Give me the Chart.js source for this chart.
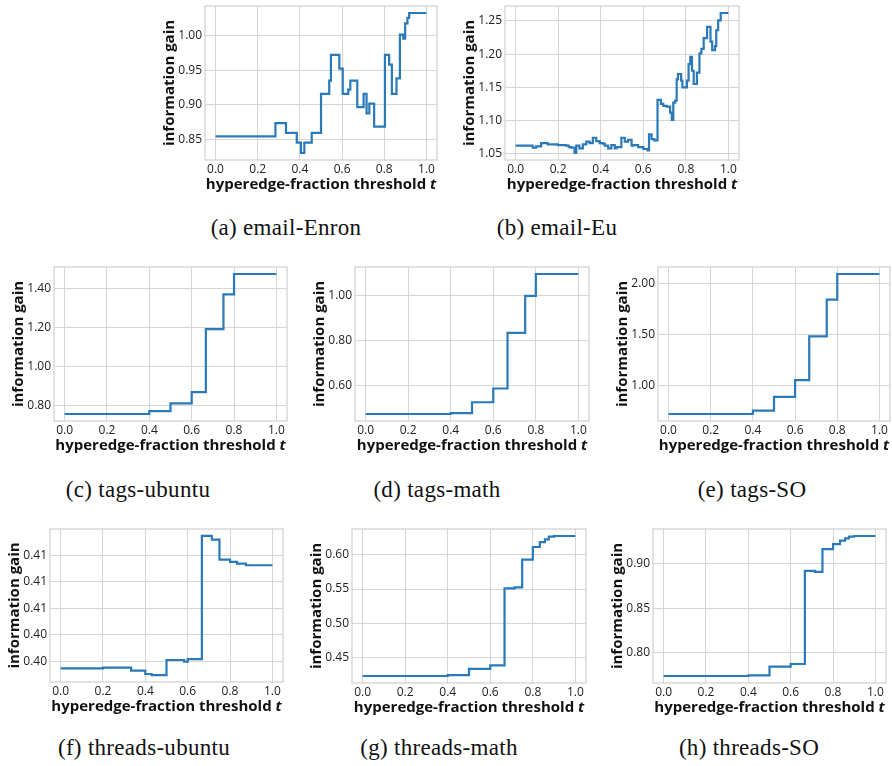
<!DOCTYPE html>
<html>
<head>
<meta charset="utf-8">
<script src="https://cdn.jsdelivr.net/npm/chart.js@4.4.1/dist/chart.umd.min.js"></script>
<style>
    html, body { margin: 0; padding: 0; background: #fff; overflow: hidden; }
    #fig { position: relative; width: 892px; height: 766px; }
    #fig canvas { position: absolute; }
    .cap {
        position: absolute;
        transform: translate(-50%, -50%);
        white-space: nowrap;
        font: 23px 'Liberation Serif', serif;
        letter-spacing: 0.3px;
        color: #111;
    }
</style>
</head>
<body>
<div id="fig"></div>
<script>
// shared x axis
const xTicks = [0, 0.2, 0.4, 0.6, 0.8, 1.0];
const xTickLabels = ['0.0', '0.2', '0.4', '0.6', '0.8', '1.0'];

// (a) email-Enron
const enronT = [0, 0.284, 0.334, 0.385, 0.405, 0.421, 0.456, 0.5, 0.539, 0.547, 0.587, 0.603, 0.629, 0.639, 0.672, 0.702, 0.716, 0.729, 0.752, 0.803, 0.823, 0.836, 0.858, 0.874, 0.89, 0.899, 0.91, 0.918, 1.0];
const enronGain = [0.855, 0.874, 0.86, 0.846, 0.831, 0.846, 0.86, 0.916, 0.935, 0.972, 0.952, 0.916, 0.922, 0.935, 0.897, 0.916, 0.888, 0.902, 0.869, 0.972, 0.958, 0.916, 0.938, 1.001, 0.995, 1.017, 1.025, 1.032, 1.032];
const enronTicks = [0.85, 0.90, 0.95, 1.00];
const enronLabels = ['0.85', '0.90', '0.95', '1.00'];

// (b) email-Eu
const euT = [0, 0.08, 0.096, 0.12, 0.151, 0.198, 0.237, 0.25, 0.261, 0.277, 0.285, 0.3, 0.316, 0.332, 0.348, 0.363, 0.379, 0.395, 0.41, 0.419, 0.435, 0.45, 0.466, 0.474, 0.497, 0.513, 0.529, 0.545, 0.553, 0.576, 0.6, 0.62, 0.627, 0.639, 0.652, 0.667, 0.683, 0.694, 0.71, 0.726, 0.734, 0.741, 0.75, 0.757, 0.763, 0.778, 0.784, 0.805, 0.813, 0.821, 0.829, 0.837, 0.852, 0.864, 0.873, 0.884, 0.9, 0.916, 0.924, 0.937, 0.943, 0.952, 0.964, 1.0];
const euGain = [1.062, 1.059, 1.061, 1.066, 1.064, 1.063, 1.062, 1.06, 1.059, 1.051, 1.062, 1.058, 1.064, 1.068, 1.066, 1.074, 1.069, 1.066, 1.065, 1.062, 1.058, 1.063, 1.058, 1.06, 1.074, 1.068, 1.071, 1.062, 1.063, 1.06, 1.057, 1.055, 1.079, 1.072, 1.07, 1.131, 1.125, 1.122, 1.121, 1.112, 1.101, 1.127, 1.13, 1.162, 1.17, 1.16, 1.15, 1.16, 1.185, 1.196, 1.175, 1.155, 1.172, 1.201, 1.208, 1.224, 1.241, 1.219, 1.206, 1.212, 1.236, 1.251, 1.262, 1.262];
const euTicks = [1.05, 1.10, 1.15, 1.20, 1.25];
const euLabels = ['1.05', '1.10', '1.15', '1.20', '1.25'];

// (c)-(e) tags datasets share thresholds
const tagsT = [0, 0.4, 0.5, 0.6, 0.667, 0.75, 0.8, 1.0];
const ubuntuGain = [0.757, 0.772, 0.812, 0.869, 1.193, 1.371, 1.476, 1.476];
const ubuntuTicks = [0.80, 1.00, 1.20, 1.40];
const ubuntuLabels = ['0.80', '1.00', '1.20', '1.40'];
const mathGain = [0.474, 0.478, 0.526, 0.587, 0.833, 0.997, 1.094, 1.094];
const mathTicks = [0.60, 0.80, 1.00];
const mathLabels = ['0.60', '0.80', '1.00'];
const soGain = [0.721, 0.754, 0.889, 1.052, 1.479, 1.839, 2.089, 2.089];
const soTicks = [1.00, 1.50, 2.00];
const soLabels = ['1.00', '1.50', '2.00'];

// (f) threads-ubuntu
const thUbuntuT = [0, 0.2, 0.333, 0.4, 0.43, 0.5, 0.583, 0.6, 0.667, 0.714, 0.75, 0.8, 0.833, 0.875, 1.0];
const thUbuntuGain = [0.39934, 0.3994, 0.39912, 0.39881, 0.39871, 0.40013, 0.39997, 0.40022, 0.41182, 0.41147, 0.40959, 0.40937, 0.40922, 0.40906, 0.40906];
const thUbuntuTicks = [0.4000, 0.4025, 0.4050, 0.4075, 0.4100];
const thUbuntuLabels = ['0.40', '0.40', '0.41', '0.41', '0.41'];

// (g), (h) threads-math / threads-SO
const threadsT = [0, 0.4, 0.5, 0.6, 0.667, 0.714, 0.75, 0.8, 0.833, 0.857, 0.875, 0.9, 1.0];
const thMathGain = [0.4238, 0.4252, 0.434, 0.4393, 0.551, 0.5524, 0.5927, 0.611, 0.618, 0.622, 0.626, 0.627, 0.627];
const thMathTicks = [0.45, 0.50, 0.55, 0.60];
const thMathLabels = ['0.45', '0.50', '0.55', '0.60'];
const thSoGain = [0.7742, 0.775, 0.7846, 0.7876, 0.8918, 0.8906, 0.9161, 0.9217, 0.9255, 0.928, 0.93, 0.9307, 0.9307];
const thSoTicks = [0.80, 0.85, 0.90];
const thSoLabels = ['0.80', '0.85', '0.90'];

const panels = [
    { frame: [205, 6, 437, 160], t: enronT, g: enronGain, yt: enronTicks, yl: enronLabels },
    { frame: [505, 6, 739, 160], t: euT, g: euGain, yt: euTicks, yl: euLabels },
    { frame: [54, 267, 287, 421], t: tagsT, g: ubuntuGain, yt: ubuntuTicks, yl: ubuntuLabels },
    { frame: [355, 267, 589, 421], t: tagsT, g: mathGain, yt: mathTicks, yl: mathLabels },
    { frame: [658, 267, 890, 421], t: tagsT, g: soGain, yt: soTicks, yl: soLabels },
    { frame: [50, 529, 283, 682], t: thUbuntuT, g: thUbuntuGain, yt: thUbuntuTicks, yl: thUbuntuLabels },
    { frame: [352, 529, 586, 683], t: threadsT, g: thMathGain, yt: thMathTicks, yl: thMathLabels },
    { frame: [653, 529, 886, 683], t: threadsT, g: thSoGain, yt: thSoTicks, yl: thSoLabels }
];

const captions = [
    { text: '(a) email-Enron', x: 286, y: 228 },
    { text: '(b) email-Eu', x: 557, y: 228 },
    { text: '(c) tags-ubuntu', x: 138, y: 490 },
    { text: '(d) tags-math', x: 437, y: 490 },
    { text: '(e) tags-SO', x: 752, y: 490 },
    { text: '(f) threads-ubuntu', x: 144, y: 748 },
    { text: '(g) threads-math', x: 439, y: 748 },
    { text: '(h) threads-SO', x: 749, y: 748 }
];

const LINE = '#2a79b8';
const GRID = '#d6d6d6';
const FONT = "'Open Sans', 'DejaVu Sans', sans-serif";
const X_TITLE = 'hyperedge-fraction threshold ';
const X_VAR = 't';

// light grey box around the plot area, like the whitegrid style,
// plus the x title with an italic variable name
const framePlugin = {
    id: 'frame',
    beforeDatasetsDraw(chart) {
        const { ctx, chartArea: a } = chart;
        ctx.save();
        ctx.strokeStyle = '#cfcfcf';
        ctx.lineWidth = 1.2;
        ctx.strokeRect(a.left, a.top, a.right - a.left, a.bottom - a.top);
        ctx.restore();
    },
    afterDraw(chart) {
        const { ctx, chartArea: a } = chart;
        const fMain = "bold 15px " + FONT;
        const fVar = "italic bold 15px " + FONT;
        ctx.save();
        ctx.font = fMain;
        const w1 = ctx.measureText(X_TITLE).width;
        ctx.font = fVar;
        const w2 = ctx.measureText(X_VAR).width;
        let x = (a.left + a.right) / 2 - (w1 + w2) / 2;
        const y = a.bottom + 25;
        ctx.fillStyle = '#111';
        ctx.textBaseline = 'middle';
        ctx.textAlign = 'left';
        ctx.font = fMain;
        ctx.fillText(X_TITLE, x, y);
        ctx.font = fVar;
        ctx.fillText(X_VAR, x + w1, y);
        ctx.restore();
    }
};

const fig = document.getElementById('fig');

function makePanel(p) {
    const padL = 44, padT = 14, padR = 6, axH = 36;
    const [l, t, r, b] = p.frame;
    const canvas = document.createElement('canvas');
    canvas.width = (r - l) + padL + padR;
    canvas.height = (b - t) + padT + axH;
    canvas.style.left = (l - padL) + 'px';
    canvas.style.top = (t - padT) + 'px';
    fig.appendChild(canvas);

    const lo = Math.min(...p.g), hi = Math.max(...p.g);
    const m = (hi - lo) * 0.05;
    const pts = p.t.map((x, i) => ({ x: x, y: p.g[i] }));

    new Chart(canvas, {
        type: 'line',
        data: {
            datasets: [{
                data: pts,
                stepped: 'before',
                borderColor: LINE,
                borderWidth: 2.2,
                pointRadius: 0,
                fill: false
            }]
        },
        options: {
            responsive: false,
            animation: false,
            layout: { padding: { top: padT, right: padR, left: 0, bottom: 0 } },
            plugins: { legend: { display: false }, tooltip: { enabled: false } },
            scales: {
                x: {
                    type: 'linear',
                    min: -0.05,
                    max: 1.05,
                    afterBuildTicks: (s) => { s.ticks = xTicks.map(v => ({ value: v })); },
                    afterFit: (s) => { s.height = axH; },
                    grid: { color: GRID, lineWidth: 1, drawTicks: false },
                    border: { display: false },
                    ticks: {
                        padding: 2,
                        maxRotation: 0,
                        color: '#222',
                        font: { family: FONT, size: 12 },
                        callback: (v, i) => xTickLabels[i]
                    }
                },
                y: {
                    type: 'linear',
                    min: lo - m,
                    max: hi + m,
                    afterBuildTicks: (s) => { s.ticks = p.yt.map(v => ({ value: v })); },
                    afterFit: (s) => { s.width = padL; },
                    grid: { color: GRID, lineWidth: 1, drawTicks: false },
                    border: { display: false },
                    ticks: {
                        padding: 3,
                        color: '#222',
                        font: { family: FONT, size: 12 },
                        callback: (v, i) => p.yl[i]
                    },
                    title: {
                        display: true,
                        text: 'information gain',
                        color: '#111',
                        padding: { top: 0, bottom: 0 },
                        font: { family: FONT, size: 15, weight: 'bold' }
                    }
                }
            }
        },
        plugins: [framePlugin]
    });
}

panels.forEach(makePanel);

captions.forEach((c) => {
    const d = document.createElement('div');
    d.className = 'cap';
    d.textContent = c.text;
    d.style.left = c.x + 'px';
    d.style.top = c.y + 'px';
    fig.appendChild(d);
});
</script>
</body>
</html>
